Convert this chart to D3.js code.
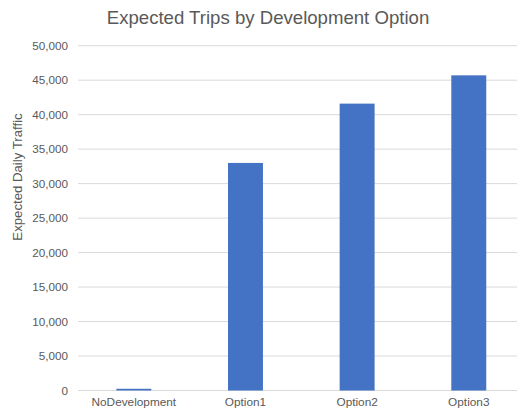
<!DOCTYPE html>
<html>
<head>
<meta charset="utf-8">
<script src="https://cdn.jsdelivr.net/npm/d3@7"></script>
<style>
  html, body { margin: 0; padding: 0; background: #fff; overflow: hidden; }
  svg { display: block; font-family: "Liberation Sans", Arial, sans-serif; }
</style>
</head>
<body>
<svg id="chart" width="517" height="410"></svg>
<script>
// Expected daily trips for each development option
const categories = ["NoDevelopment", "Option1", "Option2", "Option3"];
const trips = [250, 33000, 41600, 45700];
const yTicks = [0, 5000, 10000, 15000, 20000, 25000, 30000, 35000, 40000, 45000, 50000];

const svg = d3.select("#chart");
const plot = { left: 78, right: 524.6, top: 45.7, bottom: 390.5 };

const x = d3.scaleBand()
  .domain(categories)
  .range([plot.left, plot.right])
  .paddingInner(0.687)
  .paddingOuter(0.3435);

const y = d3.scaleLinear()
  .domain([0, 50000])
  .range([plot.bottom, plot.top]);

// Horizontal gridlines
svg.append("g")
  .selectAll("line")
  .data(yTicks)
  .join("line")
  .attr("x1", plot.left)
  .attr("x2", plot.right)
  .attr("y1", d => y(d))
  .attr("y2", d => y(d))
  .attr("stroke", "#d9d9d9")
  .attr("stroke-width", 1);

// Y axis tick labels
const yAxis = d3.axisLeft(y)
  .tickValues(yTicks)
  .tickFormat(d3.format(","))
  .tickSize(0)
  .tickPadding(10);
const gy = svg.append("g")
  .attr("transform", `translate(${plot.left},0)`)
  .call(yAxis);
gy.select(".domain").remove();
gy.selectAll("text")
  .attr("fill", "#595959")
  .style("font-size", "11.7px")
  .style("font-family", "'Liberation Sans', Arial, sans-serif");

// Bars
svg.append("g")
  .selectAll("rect")
  .data(categories)
  .join("rect")
  .attr("x", d => x(d))
  .attr("width", x.bandwidth())
  .attr("y", (d, i) => y(trips[i]))
  .attr("height", (d, i) => y(0) - y(trips[i]))
  .attr("fill", "#4472c4");

// X axis category labels
const xAxis = d3.axisBottom(x).tickSize(0).tickPadding(7);
const gx = svg.append("g")
  .attr("transform", `translate(0,${plot.bottom})`)
  .call(xAxis);
gx.select(".domain").remove();
gx.selectAll("text")
  .attr("fill", "#595959")
  .style("font-size", "11.8px")
  .style("font-family", "'Liberation Sans', Arial, sans-serif");

// Title
svg.append("text")
  .attr("x", 268)
  .attr("y", 24)
  .attr("text-anchor", "middle")
  .attr("fill", "#595959")
  .style("font-size", "18.6px")
  .text("Expected Trips by Development Option");

// Y axis title
svg.append("text")
  .attr("transform", "translate(22,177) rotate(-90)")
  .attr("text-anchor", "middle")
  .attr("fill", "#595959")
  .style("font-size", "13.2px")
  .text("Expected Daily Traffic");
</script>
</body>
</html>
